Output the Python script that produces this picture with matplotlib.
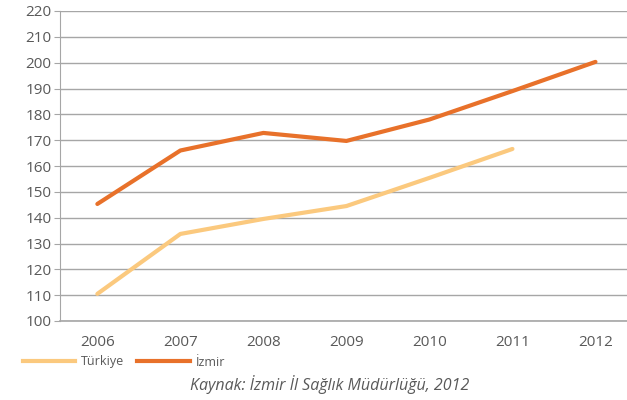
import matplotlib.pyplot as plt
from matplotlib.lines import Line2D

years = ["2006", "2007", "2008", "2009", "2010", "2011", "2012"]
turkiye = [110.5, 133.7, 139.5, 144.5, 155.4, 166.6]
izmir = [145.3, 166.0, 172.8, 169.7, 178.0, 189.0, 200.3]

c_tr = "#FBC97E"
c_iz = "#E8712A"
grey = "#595959"

plt.rcParams['font.family'] = ['Open Sans', 'DejaVu Sans']

fig = plt.figure(figsize=(6.27, 4.0), dpi=100)
ax = fig.add_axes([60 / 627, 0.1975, 1 - 60 / 627, 0.775])

x = list(range(len(years)))
ax.plot(x[:len(turkiye)], turkiye, color=c_tr, lw=3, solid_capstyle='round')
ax.plot(x, izmir, color=c_iz, lw=3, solid_capstyle='round')

ax.set_xlim(-0.45, 6.38)
ax.set_ylim(100, 220)
ax.set_yticks(range(100, 221, 10))
ax.set_xticks(x)
ax.set_xticklabels(years)
ax.yaxis.grid(True, color="#A6A6A6", lw=1)
ax.set_axisbelow(True)
for s in ["top", "right"]:
    ax.spines[s].set_visible(False)
ax.spines["left"].set_color("#A6A6A6")
ax.spines["bottom"].set_color("#A6A6A6")
ax.spines["bottom"].set_linewidth(1.2)
ax.tick_params(axis='y', length=4, color="#A6A6A6", labelsize=11, labelcolor=grey, pad=2)
ax.tick_params(axis='x', length=0, labelsize=11, labelcolor=grey, pad=10)

handles = [Line2D([], [], color=c_tr, lw=3), Line2D([], [], color=c_iz, lw=3)]
fig.legend(handles, ["Türkiye", "İzmir"], loc='center left', bbox_to_anchor=(0.018, 0.095),
           ncol=2, frameon=False, fontsize=9, labelcolor=grey, handlelength=4.2,
           columnspacing=1.0, handletextpad=0.5)

fig.text(0.526, 0.04, "Kaynak: İzmir İl Sağlık Müdürlüğü, 2012", ha='center', va='center',
         style='italic', fontsize=11.5, color=grey)

fig.savefig("out.png", dpi=100)
